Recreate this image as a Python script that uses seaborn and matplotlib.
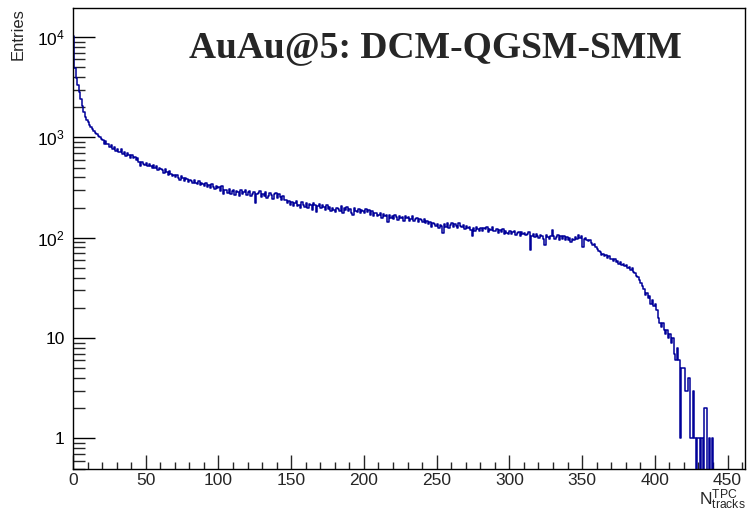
import numpy as np
import pandas as pd
import matplotlib
matplotlib.use("Agg")
import matplotlib.pyplot as plt
import seaborn as sns
from matplotlib.ticker import FixedLocator, NullFormatter, MultipleLocator

# ---- data (entries per 1-track bin) ----
entries_0_99 = [
    10300, 4900, 3900, 3300, 2850, 2400, 2050, 1800, 1600, 1480,
    1410, 1320, 1280, 1210, 1160, 1100, 1070, 1030, 1000, 960,
    950, 860, 920, 850, 855, 800, 840, 770, 800, 740,
    775, 720, 710, 760, 680, 710, 650, 700, 670, 630,
    665, 620, 640, 600, 625, 570, 515, 575, 540, 525,
    555, 515, 545, 520, 500, 530, 490, 515, 470, 500,
    480, 470, 440, 485, 455, 425, 460, 430, 415, 420,
    405, 420, 395, 380, 410, 390, 370, 395, 385, 360,
    380, 365, 350, 375, 355, 340, 365, 335, 350, 342,
    330, 350, 322, 335, 315, 340, 318, 305, 325, 310,
]
entries_100_199 = [
    318, 292, 325, 275, 300, 296, 280, 305, 270, 295,
    300, 268, 291, 288, 262, 296, 270, 285, 298, 266,
    283, 295, 262, 275, 286, 222, 270, 281, 290, 255,
    271, 258, 283, 250, 262, 278, 266, 245, 270, 276,
    250, 272, 255, 240, 258, 236, 240, 222, 230, 214,
    228, 205, 221, 230, 208, 214, 200, 226, 212, 204,
    222, 198, 215, 210, 190, 220, 214, 180, 207, 218,
    196, 212, 201, 188, 210, 192, 203, 185, 199, 191,
    180, 200, 193, 185, 205, 178, 196, 190, 201, 183,
    192, 178, 168, 197, 185, 181, 194, 176, 189, 183,
]
entries_200_299 = [
    176, 194, 180, 188, 170, 184, 166, 178, 175, 163,
    170, 176, 158, 172, 163, 168, 145, 170, 159, 166,
    154, 168, 160, 150, 165, 159, 162, 148, 163, 156,
    160, 148, 155, 163, 146, 152, 158, 142, 155, 149,
    143, 152, 140, 147, 136, 145, 128, 141, 137, 130,
    138, 126, 134, 130, 112, 137, 129, 141, 126, 135,
    140, 128, 136, 131, 125, 139, 130, 127, 135, 122,
    130, 124, 129, 119, 104, 126, 118, 128, 121, 117,
    126, 118, 124, 121, 129, 115, 123, 119, 127, 116,
    118, 123, 111, 119, 115, 121, 108, 117, 112, 110,
]
entries_300_440 = [
    116, 109, 114, 118, 106, 112, 115, 104, 113, 110,
    112, 106, 109, 113, 76, 104, 110, 101, 108, 103,
    100, 107, 103, 98, 85, 106, 101, 97, 104, 120,
    104, 97, 101, 106, 95, 103, 98, 105, 96, 101,
    94, 99, 91, 97, 95, 102, 98, 106, 99, 103,
    80, 97, 99, 94, 92, 95, 89, 84, 86, 80,
    78, 73, 72, 68, 69, 65, 67, 63, 65, 61,
    62, 59, 61, 57, 58, 55, 57, 53, 55, 52,
    53, 50, 51, 48, 50, 46, 45, 42, 41, 38,
    35, 33, 31, 27, 28, 25, 26, 22, 24, 21,
    22, 19, 16, 14, 13, 14, 12, 11, 12, 10,
    11, 9, 10, 7, 6, 8, 6, 1, 5, 5,
    5, 3, 3, 4, 1, 1, 3, 1, 0, 1,
    1, 0, 1, 0, 2, 2, 0, 1, 0, 1,
    0,
]
entries = entries_0_99 + entries_100_199 + entries_200_299 + entries_300_440
bin_edges = list(range(0, len(entries) + 1))
bin_centers = [e + 0.5 for e in bin_edges[:-1]]

title_text = "AuAu@5: DCM-QGSM-SMM"
y_major = [1, 10, 100, 1000, 10000]
y_labels = ["1", "10", r"$\mathregular{10^{2}}$", r"$\mathregular{10^{3}}$", r"$\mathregular{10^{4}}$"]
x_major = [0, 50, 100, 150, 200, 250, 300, 350, 400, 450]

df = pd.DataFrame({"ntracks": bin_centers, "entries": entries})

# ---- style ----
sns.set_style("ticks")
plt.rcParams["font.family"] = ["Liberation Sans", "DejaVu Sans"]
plt.rcParams["mathtext.fontset"] = "custom"
plt.rcParams["mathtext.rm"] = "Liberation Sans"

W, H = 747, 512
fig = plt.figure(figsize=(W / 100, H / 100), dpi=100)
left, right, bottom, top = 73, 745, 469, 8
ax = fig.add_axes([left / W, 1 - bottom / H, (right - left) / W, (bottom - top) / H])

sns.histplot(data=df, x="ntracks", weights="entries", bins=bin_edges,
             element="step", fill=False, color="#000099", linewidth=1.1, ax=ax)

ax.set_yscale("log")
ax.set_xlim(0, 462)
ax.set_ylim(0.495, 19500)
ax.set_xlabel("")
ax.set_ylabel("")

ax.yaxis.set_major_locator(FixedLocator(y_major))
ax.set_yticklabels(y_labels)
minor_y = [m * 10 ** d for d in range(-1, 5) for m in range(2, 10)]
ax.yaxis.set_minor_locator(FixedLocator(minor_y))
ax.yaxis.set_minor_formatter(NullFormatter())

ax.set_xticks(x_major)
ax.set_xticklabels([str(v) for v in x_major])
ax.xaxis.set_minor_locator(MultipleLocator(10))

ax.tick_params(axis="y", which="major", direction="in", length=15.5, width=1.0,
               labelsize=12.5, pad=6, colors="black")
ax.tick_params(axis="y", which="minor", direction="in", length=8.5, width=1.0)
ax.tick_params(axis="x", which="major", direction="in", length=10, width=1.0,
               labelsize=12.5, pad=3)
ax.tick_params(axis="x", which="minor", direction="in", length=5, width=1.0)
ax.tick_params(top=False, right=False, which="both")

for s in ax.spines.values():
    s.set_visible(True)
    s.set_linewidth(1.0)
    s.set_color("black")

fig.text(18 / W, 1 - 8 / H, "Entries", rotation=90, ha="center", va="top", fontsize=12)
fig.text(746 / W, 1 - 505 / H, r"$\mathregular{N^{TPC}_{tracks}}$", ha="right", va="baseline", fontsize=12.5)
fig.text(435 / W, 1 - 57 / H, title_text, ha="center", va="baseline",
         fontfamily="Liberation Serif", fontweight="bold", fontsize=27)

fig.savefig("out.png", dpi=100)
